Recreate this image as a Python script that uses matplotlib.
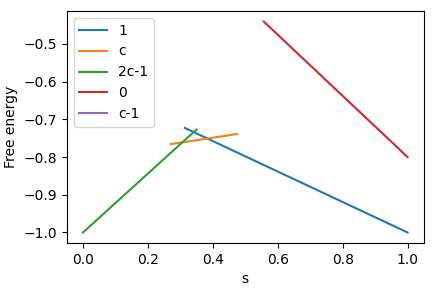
import matplotlib
matplotlib.use("Agg")
import matplotlib.pyplot as plt

# end points of each branch
s_one = [0.314, 1.0]
f_one = [-0.723, -1.0]
s_c = [0.27, 0.475]
f_c = [-0.766, -0.739]
s_2c = [0.0, 0.35]
f_2c = [-1.0, -0.727]
s_zero = [0.557, 1.0]
f_zero = [-0.441, -0.80]
s_cm1 = []
f_cm1 = []

fig, ax = plt.subplots(figsize=(4.36, 2.9), dpi=100)
ax.plot(s_one, f_one, label='1')
ax.plot(s_c, f_c, label='c')
ax.plot(s_2c, f_2c, label='2c-1')
ax.plot(s_zero, f_zero, label='0')
ax.plot(s_cm1, f_cm1, label='c-1')
ax.set_xlabel('s')
ax.set_ylabel('Free energy')
ax.legend(loc='upper left')
fig.subplots_adjust(left=0.153, right=0.972, bottom=0.162, top=0.962)
fig.savefig('out.png', dpi=100)
